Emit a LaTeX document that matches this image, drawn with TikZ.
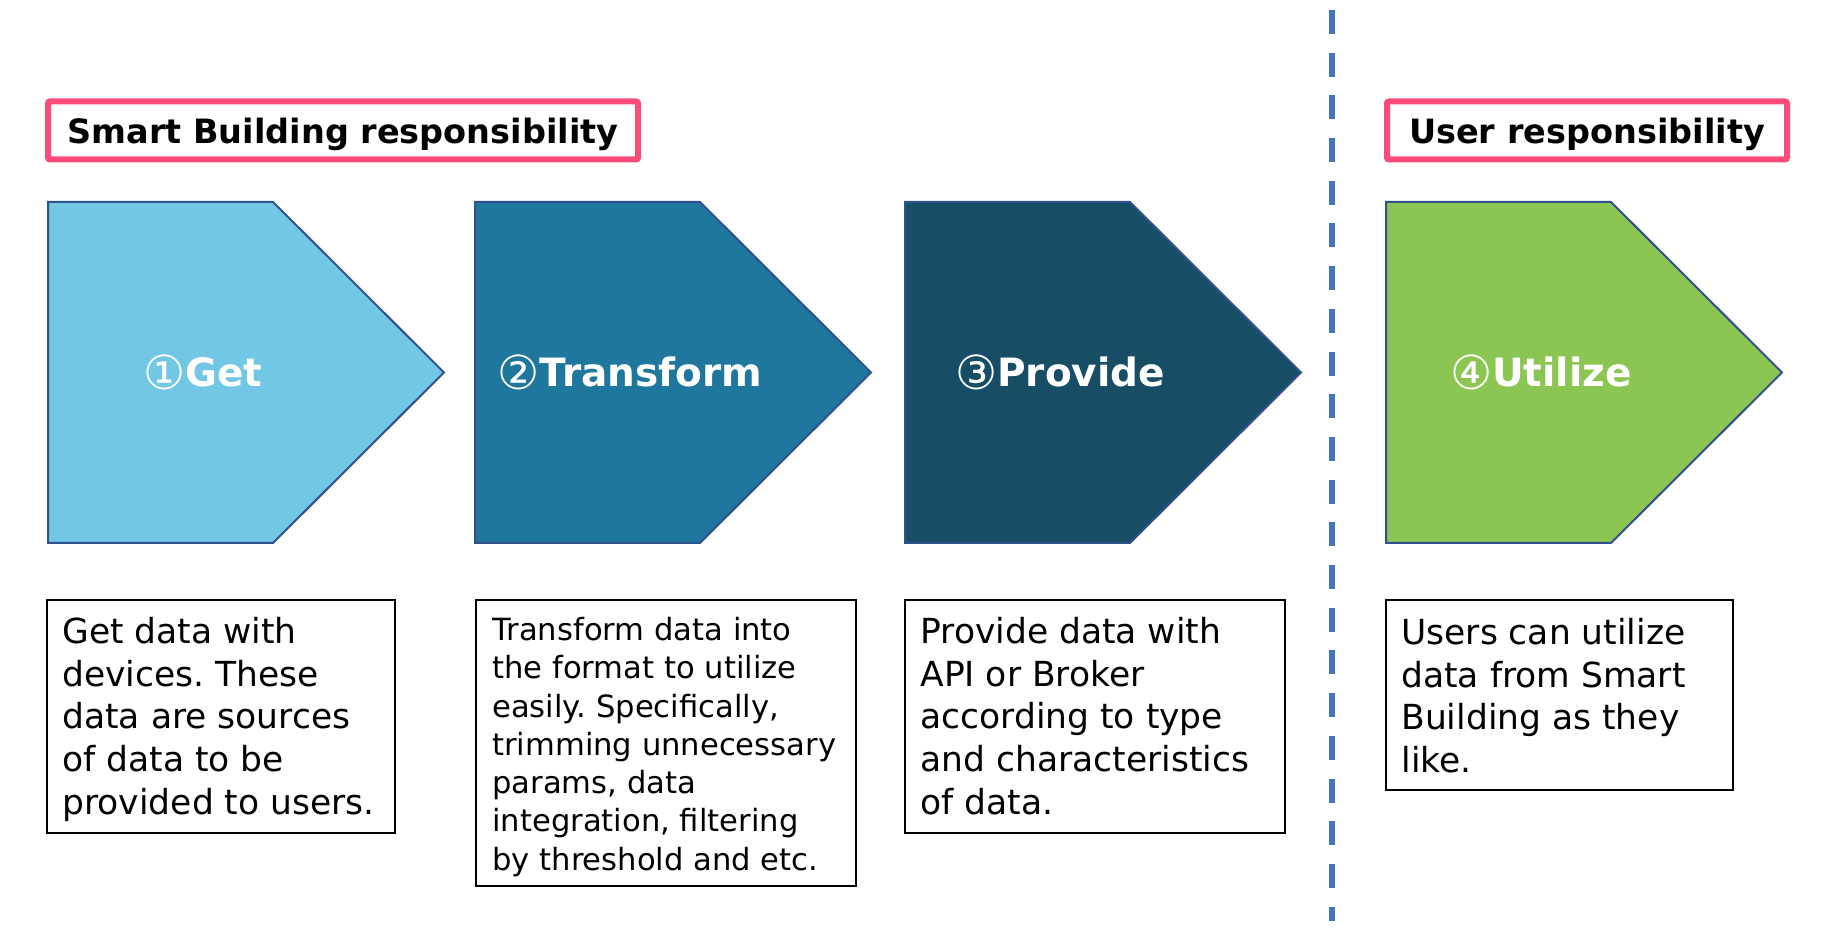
\documentclass[tikz,border=0pt]{standalone}
\usepackage{fontspec}
\setmainfont{DejaVu Sans}
\newfontfamily\circfont{DejaVu Sans}
\frenchspacing

\definecolor{getc}{RGB}{114,199,228}
\definecolor{transc}{RGB}{31,119,158}
\definecolor{provc}{RGB}{23,78,101}
\definecolor{utilc}{RGB}{139,198,83}
\definecolor{edgec}{RGB}{47,82,143}
\definecolor{pinkc}{RGB}{250,75,122}
\definecolor{dashc}{RGB}{68,114,196}

\tikzset{
  stepshape/.style={draw=edgec, line width=1pt},
  steptitle/.style={text=white, inner sep=0pt,
    font=\bfseries\fontsize{19.5}{23}\selectfont},
  respbox/.style={draw=pinkc, line width=3pt, rounded corners=1pt, fill=white,
    minimum width=295pt, minimum height=29pt, inner sep=0pt},
  resptext/.style={inner sep=0pt, font=\bfseries\fontsize{16.75}{20}\selectfont},
  descframe/.style={draw=black, line width=1pt},
  desctext/.style={anchor=north west, inner sep=0pt, align=left,
    font=\fontsize{17.25}{21.4}\selectfont},
  desctextsmall/.style={anchor=north west, inner sep=0pt, align=left,
    font=\fontsize{15.3}{19.15}\selectfont},
  divider/.style={draw=dashc, line width=2.75pt, dash pattern=on 12pt off 9.35pt}
}

% circled step number, a little larger than the title letters
\newcommand\stepno[1]{\raisebox{-1.6pt}{\circfont\mdseries\fontsize{23.5}{23}\selectfont #1}}

% one process step: left edge, fill colour, node name, title
\newcommand\processstep[4]{%
  \filldraw[stepshape, fill=#2] (#1,202) -- ++(225,0) -- ++(171,170.5)
    -- ++(-171,170.5) -- ++(-225,0) -- cycle;
  \node[steptitle] (#3) at (#1+155,372.5) {#4};
}

\begin{document}
\begin{tikzpicture}[x=0.5pt, y=-0.5pt]
  \useasboundingbox (0,0) rectangle (1831,929);
  \fill[white] (0,0) rectangle (1831,929);

  % boundary between the two responsibilities
  \coordinate (divtop) at (1332,10);
  \coordinate (divbot) at (1332,921);
  \draw[divider] (divtop) -- (divbot);

  % responsibility headers
  \node[respbox] (sbr) at (343,130.5) {};
  \node[resptext] (sbrtext) at (343,134) {Smart Building responsibility};
  \node[respbox, minimum width=200pt] (usr) at (1587,130.5) {};
  \node[resptext] (usrtext) at (1587,134) {User responsibility};

  % process steps
  \processstep{48}{getc}{get}{\stepno{①}Get}
  \processstep{475}{transc}{transform}{\stepno{②}Transform}
  \processstep{905}{provc}{provide}{\stepno{③}Provide}
  \processstep{1386}{utilc}{utilize}{\stepno{④}Utilize}

  % descriptions
  \draw[descframe] (47,600) rectangle (395,833);
  \node[desctext] (getdesc) at (62,613) {\strut Get data with\\devices. These\\data are sources\\of data to be\\provided to users.};

  \draw[descframe] (476,600) rectangle (856,886);
  \node[desctextsmall] (transdesc) at (492,613.2) {\strut Transform data into\\the format to utilize\\easily. Specifically,\\trimming unnecessary\\params, data\\integration, filtering\\by threshold and etc.};

  \draw[descframe] (905,600) rectangle (1285,833);
  \node[desctext] (provdesc) at (920,613) {\strut Provide data with\\API or Broker\\according to type\\and characteristics\\of data.};

  \draw[descframe] (1386,600) rectangle (1733,790);
  \node[desctext] (utildesc) at (1401,614) {\strut Users can utilize\\data from Smart\\Building as they\\like.};
\end{tikzpicture}
\end{document}
